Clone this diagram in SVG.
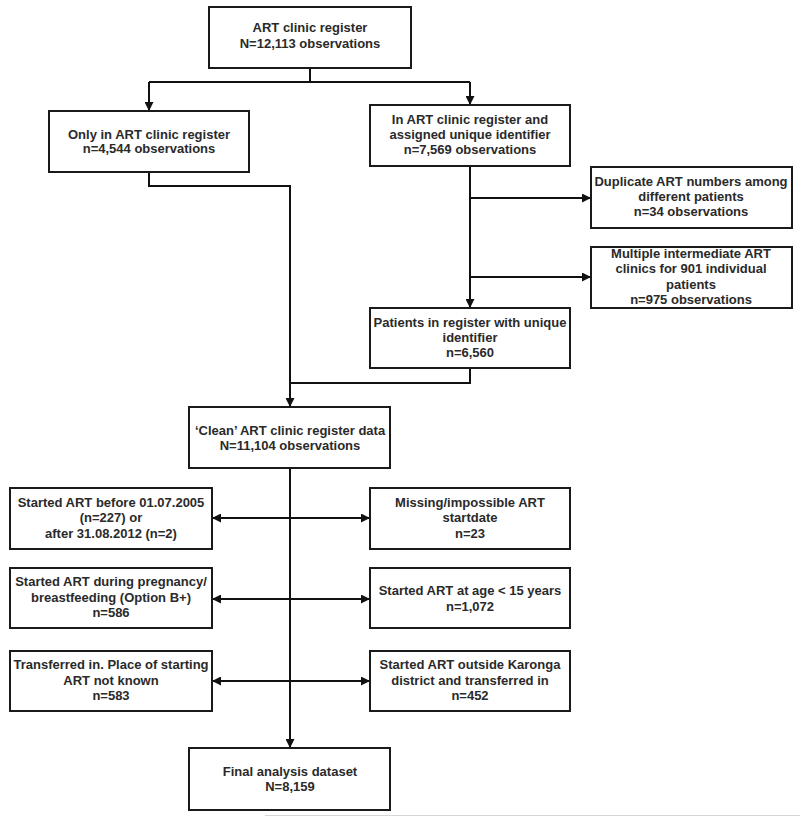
<svg xmlns="http://www.w3.org/2000/svg" width="800" height="817" viewBox="0 0 800 817">
<defs>
<marker id="ah" viewBox="0 0 10 10" refX="10" refY="5" markerWidth="9" markerHeight="9" markerUnits="userSpaceOnUse" orient="auto-start-reverse">
<path d="M0,0 L10,5 L0,10 z" fill="#111"/>
</marker>
<style>
.box{fill:#fff;stroke:#1a1a1a;stroke-width:2}
.c{fill:none;stroke:#111;stroke-width:2}
text{font-family:"Liberation Sans Narrow","Arial Narrow","Liberation Sans",Arial,sans-serif;font-size:13px;font-weight:bold;fill:#2a2a2a;text-anchor:middle}
</style>
</defs>
<rect width="800" height="817" fill="#fff"/>
<g id="connectors">
<path class="c" d="M310,68 V82 M149,82 H470"/>
<path class="c" d="M149,82 V111" marker-end="url(#ah)"/>
<path class="c" d="M470,82 V105" marker-end="url(#ah)"/>
<path class="c" d="M149,172 V186 H290 V407" marker-end="url(#ah)"/>
<path class="c" d="M470,166 V308" marker-end="url(#ah)"/>
<path class="c" d="M470,198 H591" marker-end="url(#ah)"/>
<path class="c" d="M470,277 H591" marker-end="url(#ah)"/>
<path class="c" d="M470,368 V383 H290"/>
<path class="c" d="M290,468 V748" marker-end="url(#ah)"/>
<path class="c" d="M212,518 H370" marker-start="url(#ah)" marker-end="url(#ah)"/>
<path class="c" d="M212,599 H370" marker-start="url(#ah)" marker-end="url(#ah)"/>
<path class="c" d="M212,681 H370" marker-start="url(#ah)" marker-end="url(#ah)"/>
</g>
<g id="n-register">
<rect class="box" x="209" y="7" width="202" height="61"/>
<text x="310" y="32">ART clinic register</text>
<text x="310" y="48">N=12,113 observations</text>
</g>
<g id="n-only">
<rect class="box" x="49" y="111" width="200" height="61"/>
<text x="149" y="139">Only in ART clinic register</text>
<text x="149" y="153">n=4,544 observations</text>
</g>
<g id="n-assigned">
<rect class="box" x="370" y="105" width="200" height="61"/>
<text x="470" y="124">In ART clinic register and</text>
<text x="470" y="139">assigned unique identifier</text>
<text x="470" y="154">n=7,569 observations</text>
</g>
<g id="n-duplicate">
<rect class="box" x="591" y="167" width="201" height="61"/>
<text x="691" y="186">Duplicate ART numbers among</text>
<text x="691" y="201">different patients</text>
<text x="691" y="216">n=34 observations</text>
</g>
<g id="n-multiple">
<rect class="box" x="591" y="247" width="201" height="61"/>
<text x="691" y="258">Multiple intermediate ART</text>
<text x="691" y="273">clinics for 901 individual</text>
<text x="691" y="289">patients</text>
<text x="691" y="304">n=975 observations</text>
</g>
<g id="n-unique">
<rect class="box" x="370" y="308" width="200" height="60"/>
<text x="470" y="327">Patients in register with unique</text>
<text x="470" y="342">identifier</text>
<text x="470" y="357">n=6,560</text>
</g>
<g id="n-clean">
<rect class="box" x="189" y="407" width="201" height="61"/>
<text x="290" y="435">‘Clean’ ART clinic register data</text>
<text x="290" y="450">N=11,104 observations</text>
</g>
<g id="n-before">
<rect class="box" x="10" y="488" width="202" height="61"/>
<text x="111" y="507">Started ART before 01.07.2005</text>
<text x="111" y="522">(n=227) or</text>
<text x="111" y="538">after 31.08.2012 (n=2)</text>
</g>
<g id="n-missing">
<rect class="box" x="370" y="488" width="200" height="61"/>
<text x="470" y="507">Missing/impossible ART</text>
<text x="470" y="522">startdate</text>
<text x="470" y="538">n=23</text>
</g>
<g id="n-pregnancy">
<rect class="box" x="10" y="568" width="202" height="60"/>
<text x="111" y="586">Started ART during pregnancy/</text>
<text x="111" y="602">breastfeeding (Option B+)</text>
<text x="111" y="617">n=586</text>
</g>
<g id="n-age">
<rect class="box" x="370" y="568" width="200" height="60"/>
<text x="470" y="595">Started ART at age &lt; 15 years</text>
<text x="470" y="611">n=1,072</text>
</g>
<g id="n-transferred">
<rect class="box" x="10" y="651" width="202" height="60"/>
<text x="111" y="669">Transferred in. Place of starting</text>
<text x="111" y="685">ART not known</text>
<text x="111" y="700">n=583</text>
</g>
<g id="n-outside">
<rect class="box" x="370" y="651" width="200" height="60"/>
<text x="470" y="669">Started ART outside Karonga</text>
<text x="470" y="685">district and transferred in</text>
<text x="470" y="700">n=452</text>
</g>
<g id="n-final">
<rect class="box" x="189" y="748" width="201" height="62"/>
<text x="290" y="776">Final analysis dataset</text>
<text x="290" y="791">N=8,159</text>
</g>
<line x1="265" y1="815.5" x2="800" y2="815.5" stroke="#d6d6d6" stroke-width="1"/>
</svg>
